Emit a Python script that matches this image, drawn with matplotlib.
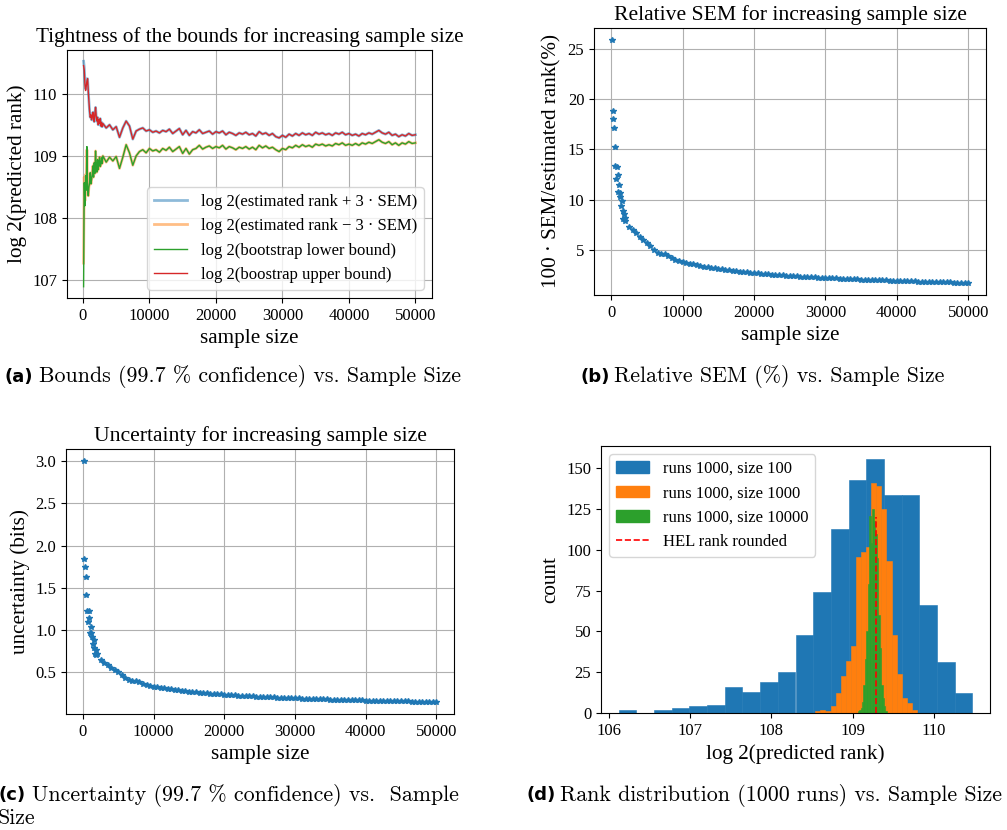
import numpy as np
import matplotlib
matplotlib.use("Agg")
import matplotlib.pyplot as plt
from matplotlib.patches import Patch
from matplotlib.lines import Line2D

plt.rcParams['font.family'] = 'serif'
plt.rcParams['font.serif'] = ['Liberation Serif', 'DejaVu Serif']
plt.rcParams['mathtext.fontset'] = 'stix'

# ---- panel (a): bounds vs sample size ----
n_a = np.concatenate([np.arange(100, 3001, 100), np.arange(3500, 50001, 500)])
boot_upper = [110.45, 110.38, 110.15, 110.05, 110.12, 110.20, 110.24, 110.05, 109.88, 109.72,
              109.62, 109.66, 109.58, 109.64, 109.70, 109.60, 109.55, 109.68, 109.78, 109.64,
              109.56, 109.62, 109.50, 109.58, 109.52, 109.60, 109.48, 109.54, 109.47, 109.52,
              109.45, 109.50, 109.42, 109.47, 109.30, 109.45, 109.56, 109.48, 109.27, 109.40,
              109.43, 109.45, 109.40, 109.42, 109.38, 109.40, 109.37, 109.41, 109.39, 109.43,
              109.36, 109.40, 109.44, 109.34, 109.41, 109.33, 109.39, 109.37, 109.42, 109.36,
              109.38, 109.40, 109.35, 109.39, 109.37, 109.40, 109.34, 109.38, 109.36, 109.33,
              109.37, 109.35, 109.38, 109.34, 109.36, 109.32, 109.39, 109.35, 109.37, 109.33,
              109.36, 109.31, 109.29, 109.33, 109.30, 109.35, 109.32, 109.36, 109.33, 109.37,
              109.34, 109.36, 109.33, 109.38, 109.35, 109.37, 109.34, 109.36, 109.33, 109.37,
              109.35, 109.38, 109.34, 109.36, 109.33, 109.35, 109.32, 109.36, 109.34, 109.37,
              109.35, 109.38, 109.41, 109.37, 109.35, 109.38, 109.33, 109.35, 109.31, 109.34,
              109.32, 109.36, 109.33, 109.34]
boot_lower = [106.90, 108.57, 108.20, 108.68, 108.45, 109.15, 108.47, 108.36, 108.50, 108.57,
              108.73, 108.55, 108.62, 108.70, 108.84, 108.66, 108.89, 108.72, 109.08, 108.80,
              108.74, 108.94, 108.78, 108.90, 108.98, 108.83, 108.86, 108.97, 108.88, 109.00,
              108.90, 108.98, 108.92, 108.99, 108.80, 108.98, 109.18, 109.05, 108.85, 109.00,
              109.07, 109.10, 109.05, 109.12, 109.08, 109.10, 109.06, 109.12, 109.09, 109.14,
              109.07, 109.11, 109.15, 109.04, 109.12, 109.03, 109.10, 109.12, 109.17, 109.11,
              109.14, 109.16, 109.12, 109.15, 109.13, 109.17, 109.11, 109.15, 109.13, 109.10,
              109.14, 109.12, 109.15, 109.11, 109.14, 109.10, 109.17, 109.13, 109.16, 109.12,
              109.14, 109.10, 109.07, 109.12, 109.10, 109.15, 109.13, 109.17, 109.14, 109.18,
              109.15, 109.17, 109.14, 109.19, 109.17, 109.19, 109.16, 109.18, 109.16, 109.20,
              109.18, 109.21, 109.17, 109.19, 109.17, 109.20, 109.17, 109.21, 109.19, 109.22,
              109.20, 109.23, 109.26, 109.22, 109.20, 109.23, 109.18, 109.21, 109.17, 109.21,
              109.19, 109.23, 109.20, 109.21]
# SEM based bounds only differ visibly for the first few sample sizes
sem_upper_head = [110.52, 110.42, 110.20, 110.08, 110.15, 110.24]
sem_lower_head = [107.28, 108.66, 108.28, 108.70, 108.50, 109.10]
sem_upper = sem_upper_head + boot_upper[6:]
sem_lower = sem_lower_head + boot_lower[6:]

# ---- panels (b), (c): relative SEM and uncertainty ----
n_bc = np.concatenate([np.arange(100, 2001, 100), np.arange(2500, 50001, 500)])
rel_sem = [25.9, 18.8, 18.0, 17.1, 15.2, 13.4, 12.1, 13.3, 12.5, 10.8,
           11.5, 10.7, 10.3, 9.4, 9.9, 8.9, 8.1, 8.6, 7.9, 8.2,
           7.3, 7.0, 6.7, 6.3, 6.0, 5.7, 5.4, 5.0, 4.7, 4.6,
           4.6, 4.4, 4.2, 4.0, 3.9, 3.8, 3.71, 3.62, 3.54, 3.47,
           3.40, 3.33, 3.27, 3.21, 3.16, 3.10, 3.05, 3.00, 2.96, 2.91,
           2.87, 2.83, 2.79, 2.76, 2.72, 2.69, 2.65, 2.62, 2.59, 2.56,
           2.53, 2.51, 2.48, 2.45, 2.43, 2.40, 2.38, 2.36, 2.33, 2.31,
           2.29, 2.27, 2.25, 2.23, 2.21, 2.19, 2.18, 2.16, 2.14, 2.12,
           2.11, 2.09, 2.08, 2.06, 2.05, 2.03, 2.02, 2.00, 1.99, 1.98,
           1.96, 1.95, 1.94, 1.92, 1.91, 1.90, 1.89, 1.88, 1.87, 1.85,
           1.84, 1.83, 1.82, 1.81, 1.80, 1.79, 1.78, 1.77, 1.76, 1.75,
           1.74, 1.73, 1.73, 1.72, 1.71, 1.70]
uncert = [3.00, 1.84, 1.74, 1.63, 1.42, 1.23, 1.10, 1.22, 1.14, 0.97,
          1.04, 0.96, 0.92, 0.84, 0.88, 0.79, 0.72, 0.76, 0.70, 0.72,
          0.642, 0.615, 0.588, 0.552, 0.525, 0.498, 0.471, 0.436, 0.409, 0.401,
          0.401, 0.383, 0.365, 0.348, 0.339, 0.330, 0.322, 0.315, 0.308, 0.302,
          0.296, 0.290, 0.284, 0.279, 0.275, 0.270, 0.265, 0.261, 0.257, 0.253,
          0.250, 0.246, 0.243, 0.240, 0.237, 0.234, 0.230, 0.228, 0.225, 0.223,
          0.220, 0.218, 0.216, 0.213, 0.211, 0.209, 0.207, 0.205, 0.203, 0.201,
          0.199, 0.197, 0.196, 0.194, 0.192, 0.190, 0.190, 0.188, 0.186, 0.184,
          0.183, 0.182, 0.181, 0.179, 0.178, 0.177, 0.176, 0.174, 0.173, 0.172,
          0.171, 0.170, 0.169, 0.167, 0.166, 0.165, 0.164, 0.164, 0.163, 0.161,
          0.160, 0.159, 0.158, 0.157, 0.157, 0.156, 0.155, 0.154, 0.153, 0.152,
          0.151, 0.150, 0.150, 0.150, 0.149, 0.148]

# ---- panel (d): rank distribution ----
counts_100 = [2, 0, 2, 3, 4, 5, 16, 13, 19, 25, 48, 74, 113, 143, 156, 134, 134, 66, 31, 12]
range_100 = (106.123, 110.47)
counts_1000 = [1, 2, 1, 4, 12, 23, 32, 41, 96, 99, 102, 141, 139, 125, 93, 48, 24, 9, 6, 2]
range_1000 = (108.54, 109.79)
counts_10000 = [1, 2, 3, 7, 17, 33, 50, 79, 121, 104, 125, 118, 110, 95, 60, 40, 17, 9, 4, 1]
range_10000 = (109.06, 109.42)
hel_rank = 109.29
hel_height = 120

W, H = 1007, 830
fig = plt.figure(figsize=(W / 100, H / 100), dpi=100)


def rect(l, t, r, b):
    return [l / W, 1 - b / H, (r - l) / W, (b - t) / H]


TS = 15.2   # title / label size
TK = 12     # tick size

# (a)
ax = fig.add_axes(rect(67, 50, 432, 298))
ax.plot(n_a, sem_upper, color='C0', alpha=0.5, lw=2,
        label='log 2(estimated rank + 3 · SEM)')
ax.plot(n_a, sem_lower, color='C1', alpha=0.5, lw=2,
        label='log 2(estimated rank \u2212 3 · SEM)')
ax.plot(n_a, boot_lower, color='C2', lw=1, label='log 2(bootstrap lower bound)')
ax.plot(n_a, boot_upper, color='C3', lw=1, label='log 2(boostrap upper bound)')
ax.set_title('Tightness of the bounds for increasing sample size', fontsize=TS)
ax.set_xlabel('sample size', fontsize=TS)
ax.set_ylabel('log 2(predicted rank)', fontsize=TS)
ax.set_xticks([0, 10000, 20000, 30000, 40000, 50000])
ax.set_yticks([107, 108, 109, 110])
ax.tick_params(labelsize=TK)
ax.grid(True)
ax.legend(loc='lower right', fontsize=12)

# (b)
ax = fig.add_axes(rect(594, 28, 986, 295))
ax.plot(n_bc, rel_sem, '*', color='C0', markersize=4)
ax.set_title('Relative SEM for increasing sample size', fontsize=TS + 0.4)
ax.set_xlabel('sample size', fontsize=TS)
ax.set_ylabel('100 · SEM/estimated rank(%)', fontsize=TS)
ax.set_xticks([0, 10000, 20000, 30000, 40000, 50000])
ax.set_yticks([5, 10, 15, 20, 25])
ax.tick_params(labelsize=TK)
ax.grid(True)

# (c)
ax = fig.add_axes(rect(66, 449, 454, 714))
ax.plot(n_bc, uncert, '*', color='C0', markersize=4)
ax.set_title('Uncertainty for increasing sample size', fontsize=TS + 0.4)
ax.set_xlabel('sample size', fontsize=TS)
ax.set_ylabel('uncertainty (bits)', fontsize=TS)
ax.set_xticks([0, 10000, 20000, 30000, 40000, 50000])
ax.set_yticks([0.5, 1.0, 1.5, 2.0, 2.5, 3.0])
ax.tick_params(labelsize=TK)
ax.grid(True)

# (d)
ax = fig.add_axes(rect(601, 446, 990, 713))
handles = []
for counts, rng, col, lab in [(counts_100, range_100, 'C0', 'runs 1000, size 100'),
                              (counts_1000, range_1000, 'C1', 'runs 1000, size 1000'),
                              (counts_10000, range_10000, 'C2', 'runs 1000, size 10000')]:
    edges = np.linspace(rng[0], rng[1], len(counts) + 1)
    ax.bar(edges[:-1], counts, width=np.diff(edges), align='edge', color=col,
           edgecolor=col, linewidth=0.4)
    handles.append(Patch(color=col, label=lab))
ax.plot([hel_rank, hel_rank], [0, hel_height], '--', color='red', lw=1.2)
handles.append(Line2D([], [], ls='--', color='red', lw=1.2, label='HEL rank rounded'))
ax.set_xlabel('log 2(predicted rank)', fontsize=TS)
ax.set_ylabel('count', fontsize=TS)
ax.set_xticks([106, 107, 108, 109, 110])
ax.set_yticks([0, 25, 50, 75, 100, 125, 150])
ax.tick_params(labelsize=TK)
ax.legend(handles=handles, loc='upper left', fontsize=12)

# captions
CAP = 15.8


def caption(x, y, tag, text):
    fig.text(x / W, 1 - y / H, tag, fontfamily='DejaVu Sans', fontweight='bold',
             fontsize=13, va='center', ha='left')
    fig.text((x + 34) / W, 1 - y / H, text, fontfamily='cmr10', fontsize=CAP,
             va='center', ha='left')


caption(5, 377, '(a)', 'Bounds (99.7 % confidence) vs. Sample Size')
caption(580, 377, '(b)', 'Relative SEM (%) vs. Sample Size')
caption(-2, 795, '(c)', 'Uncertainty (99.7 % confidence) vs.  Sample')
fig.text(-2 / W, 1 - 818 / H, 'Size', fontfamily='cmr10', fontsize=CAP, va='center', ha='left')
caption(526, 795, '(d)', 'Rank distribution (1000 runs) vs. Sample Size')

fig.savefig('out.png', dpi=100)
